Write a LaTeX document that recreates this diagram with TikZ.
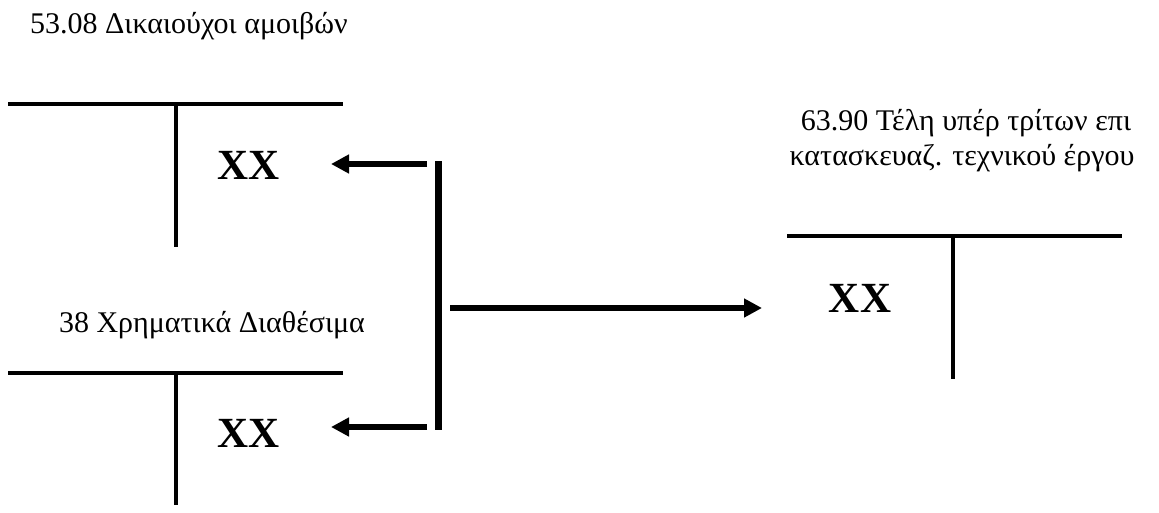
\documentclass[tikz,border=0pt]{standalone}
\usepackage{fontspec}
\setmainfont{Liberation Serif}
\usetikzlibrary{arrows.meta}
\begin{document}
\begin{tikzpicture}[x=1pt,y=-1pt,
  label/.style={inner sep=0pt,font=\fontsize{30}{35}\selectfont},
  amount/.style={inner sep=0pt,font=\fontsize{43}{50}\selectfont\bfseries},
  tline/.style={line width=4.5pt},
  flow/.style={line width=6pt,-{Triangle[length=18pt,width=18pt]}},
  bar/.style={line width=6.5pt}]
\useasboundingbox[fill=white] (0,0) rectangle (1159,512);

% account 53.08
\node[label,anchor=base west] (t1) at (30,33) {53.08 Δικαιούχοι αμοιβών};
\coordinate (a1l) at (8,104);  \coordinate (a1r) at (343,104);
\coordinate (a1t) at (176,104); \coordinate (a1b) at (176,247);
\draw[tline] (a1l) -- (a1r);
\draw[tline] (a1t) -- (a1b);
\node[amount,anchor=base] (x1) at (249,179) {XX};

% account 38
\node[label,anchor=base] (t2) at (212,332) {38 Χρηματικά Διαθέσιμα};
\coordinate (a2l) at (8,373);  \coordinate (a2r) at (343,373);
\coordinate (a2t) at (176,373); \coordinate (a2b) at (176,505);
\draw[tline] (a2l) -- (a2r);
\draw[tline] (a2t) -- (a2b);
\node[amount,anchor=base] (x2) at (249,447) {XX};

% account 63.90
\node[label,anchor=base] (t3a) at (966,130) {63.90 Τέλη υπέρ τρίτων επι};
\node[label,anchor=base] (t3b) at (962,165) {κατασκευαζ. τεχνικού έργου};
\coordinate (a3l) at (787,236);  \coordinate (a3r) at (1122,236);
\coordinate (a3t) at (953,236); \coordinate (a3b) at (953,379);
\draw[tline] (a3l) -- (a3r);
\draw[tline] (a3t) -- (a3b);
\node[amount,anchor=base] (x3) at (860,312) {XX};

% entry bracket and arrows
\coordinate (bt) at (438.5,161); \coordinate (bb) at (438.5,430);
\draw[bar] (bt) -- (bb);
\coordinate (f1s) at (427,164); \coordinate (f1e) at (331,164);
\coordinate (f2s) at (427,427); \coordinate (f2e) at (331,427);
\coordinate (f3s) at (450,308); \coordinate (f3e) at (762,308);
\draw[flow] (f1s) -- (f1e);
\draw[flow] (f2s) -- (f2e);
\draw[flow] (f3s) -- (f3e);
\end{tikzpicture}
\end{document}
